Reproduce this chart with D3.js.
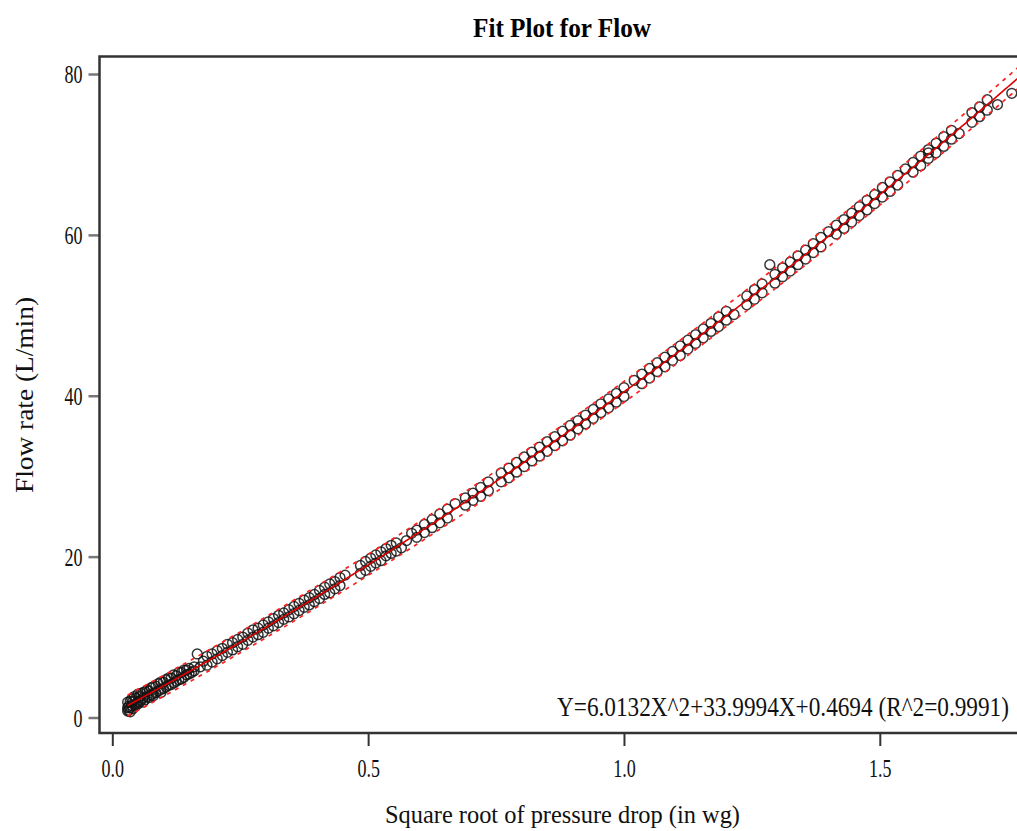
<!DOCTYPE html>
<html><head><meta charset="utf-8">
<script src="https://cdn.jsdelivr.net/npm/d3@7"></script>
<style>body{margin:0;background:#fff}svg{display:block}</style>
</head><body>
<svg id="chart" width="1017" height="831"></svg>
<script>
// ---- data ----
const pressureRoot = [
 0.030,0.030,0.030,0.032,0.032,0.035,0.035,0.035,0.038,0.038,0.040,0.040,0.043,0.043,0.046,0.046,0.050,0.050,0.050,0.053,0.053,0.056,0.056,0.060,0.060,0.060,0.064,0.064,0.068,0.068,0.072,0.072,0.076,0.076,0.080,0.080,0.080,0.085,0.085,0.090,0.090,0.095,0.095,0.095,0.100,0.100,0.105,0.105,0.110,0.110,0.115,0.115,0.120,0.120,0.125,0.125,0.130,0.130,0.135,0.135,0.140,0.140,0.145,0.145,0.150,0.150,0.155,0.160,0.160,
 0.166,0.172,0.178,0.185,0.185,0.195,0.195,0.205,0.205,0.215,0.215,0.225,0.225,0.235,0.235,0.245,0.245,0.255,0.255,0.265,0.265,0.275,0.275,0.285,0.285,0.295,0.295,0.305,0.305,0.315,0.315,0.325,0.325,0.335,0.335,0.345,0.345,
 0.355,0.355,0.365,0.365,0.375,0.375,0.385,0.385,0.395,0.395,0.405,0.405,0.415,0.415,0.425,0.425,0.435,0.435,0.445,0.445,0.455,0.485,0.485,0.495,0.495,0.505,0.505,0.515,0.515,0.525,0.525,0.535,0.535,0.545,0.545,0.555,0.555,0.565,0.575,0.585,
 0.595,0.595,0.610,0.610,0.625,0.625,0.640,0.640,0.655,0.655,0.670,0.690,0.690,0.705,0.705,0.720,0.720,0.735,0.735,0.760,0.760,0.775,0.775,0.790,0.790,0.805,0.805,0.820,0.820,0.835,0.835,0.850,0.850,0.865,0.865,0.880,0.880,0.895,0.895,
 0.910,0.910,0.925,0.925,0.940,0.940,0.955,0.955,0.970,0.970,0.985,0.985,1.000,1.000,1.020,1.035,1.035,1.050,1.050,1.065,1.065,1.080,1.080,1.095,1.095,1.110,1.110,1.125,1.125,1.140,1.140,1.155,1.155,
 1.170,1.170,1.185,1.185,1.200,1.200,1.215,1.240,1.240,1.255,1.255,1.270,1.270,1.285,1.295,1.295,1.310,1.310,1.325,1.325,1.340,1.340,1.355,1.355,1.370,1.370,1.385,1.385,1.400,1.415,1.415,1.430,1.430,1.445,1.445,
 1.460,1.460,1.475,1.475,1.490,1.490,1.505,1.505,1.520,1.520,1.535,1.535,1.550,1.565,1.565,1.580,1.580,1.595,1.595,1.595,1.610,1.610,1.625,1.625,1.640,1.640,1.655,1.680,1.680,1.695,1.695,1.710,1.710,1.730,1.758
];
const flowRate = [
 1.2,0.8,1.9,1.4,0.9,2.0,1.2,0.7,1.5,2.3,1.1,2.0,1.6,2.6,1.5,2.4,1.7,2.9,2.0,2.6,1.9,2.1,3.0,2.4,3.1,1.9,2.2,3.2,2.6,3.4,3.3,2.5,2.8,3.7,3.0,3.8,2.7,3.9,3.1,3.3,4.2,3.5,4.4,3.1,4.4,3.6,3.8,4.7,4.0,4.9,4.9,4.1,4.3,5.3,5.2,4.5,4.7,5.6,5.6,4.8,5.0,5.9,5.9,5.3,5.4,6.1,5.6,6.3,5.8,
 7.9,6.3,7.0,7.6,6.5,7.9,6.9,7.3,8.3,8.6,7.7,8.1,9.1,9.3,8.4,8.8,9.7,10.0,9.1,9.6,10.5,10.9,10.0,10.3,11.1,11.5,10.6,11.1,11.9,12.3,11.4,11.8,12.7,13.0,12.2,12.5,13.4,
 13.8,12.9,13.3,14.2,14.6,13.7,14.0,14.9,15.3,14.4,14.8,15.8,16.2,15.3,15.5,16.6,16.9,16.0,17.4,16.4,17.7,17.9,18.9,19.4,18.3,18.8,19.8,20.2,19.2,19.5,20.6,21.0,20.1,21.4,20.4,21.7,20.7,21.1,22.0,22.9,
 22.4,23.3,24.0,23.0,23.6,24.6,25.3,24.2,24.8,25.9,26.6,26.4,27.3,27.9,27.0,27.5,28.6,29.3,28.2,30.4,29.3,29.8,31.0,31.7,30.5,31.2,32.4,33.0,31.9,32.5,33.6,34.3,33.1,33.8,34.9,35.6,34.4,35.1,36.3,
 36.9,35.9,37.6,36.5,37.2,38.3,39.0,37.9,38.5,39.6,40.3,39.2,39.9,41.0,41.9,41.5,42.7,43.4,42.2,43.0,44.1,44.8,43.6,44.4,45.5,46.2,45.0,45.8,46.9,47.6,46.5,47.2,48.3,
 49.0,48.0,48.6,49.8,50.5,49.4,50.1,52.4,51.3,52.0,53.2,53.9,52.8,56.3,55.1,54.0,55.9,54.8,56.6,55.5,57.4,56.3,57.0,58.1,58.9,57.8,58.5,59.7,60.4,61.2,60.1,60.8,61.9,62.7,61.6,
 63.5,62.4,63.1,64.3,65.0,63.9,65.9,64.7,65.4,66.6,67.4,66.2,68.2,67.8,69.0,69.8,68.6,70.6,69.5,70.2,71.4,70.2,71.0,72.2,73.0,71.9,72.6,75.2,74.0,75.9,74.7,75.5,76.8,76.2,77.6
];
const xTickValues = [0, 0.5, 1.0, 1.5];
const xTickLabels = ["0.0", "0.5", "1.0", "1.5"];
const yTickValues = [0, 20, 40, 60, 80];
const yTickLabels = ["0", "20", "40", "60", "80"];
const fitCoefficients = [6.0132, 33.9994, 0.4694];   // X^2, X, intercept (from the chart's equation)
const predictionHalfWidth = 1.3;                     // dashed limits
const titleText = "Fit Plot for Flow";
const xLabelText = "Square root of pressure drop (in wg)";
const yLabelText = "Flow rate (L/min)";
const fitLabelText = "Y=6.0132X^2+33.9994X+0.4694 (R^2=0.9991)";

// ---- drawing ----
const svg = d3.select("#chart");
const serif = "'Liberation Serif','Times New Roman',serif";
const frame = {left: 99.5, top: 56.5, bottom: 733, right: 1017};

const x = d3.scaleLinear().domain([0, 1.5]).range([112.3, 879.8]);
const y = d3.scaleLinear().domain([0, 80]).range([717.5, 74]);

svg.append("defs").append("clipPath").attr("id", "plotClip")
  .append("rect").attr("x", frame.left + 1).attr("y", frame.top + 1)
  .attr("width", frame.right - frame.left).attr("height", frame.bottom - frame.top - 2);

// title
svg.append("text").attr("x", 473).attr("y", 37)
  .attr("font-family", serif).attr("font-weight", "bold").attr("font-size", 28)
  .attr("textLength", 178).attr("lengthAdjust", "spacingAndGlyphs")
  .attr("fill", "#000").text(titleText);

// axes
const xAxis = d3.axisBottom(x).tickValues(xTickValues)
  .tickFormat((d, i) => xTickLabels[i]).tickSize(13).tickSizeOuter(0);
const gx = svg.append("g").attr("transform", `translate(0,${frame.bottom})`).call(xAxis);
gx.select(".domain").remove();
gx.selectAll(".tick line").attr("stroke", "#333").attr("stroke-width", 2);
gx.selectAll(".tick text").attr("y", 0).attr("dy", 0)
  .attr("transform", "translate(0,44) scale(0.72,1)")
  .attr("font-family", serif).attr("font-size", 25).attr("fill", "#111");

const yAxis = d3.axisLeft(y).tickValues(yTickValues)
  .tickFormat((d, i) => yTickLabels[i]).tickSize(11).tickSizeOuter(0);
const gy = svg.append("g").attr("transform", `translate(${frame.left},0)`).call(yAxis);
gy.select(".domain").remove();
gy.selectAll(".tick line").attr("stroke", "#777").attr("stroke-width", 2.5);
gy.selectAll(".tick text").attr("x", 0).attr("dy", "0.34em")
  .attr("transform", "translate(-17,0) scale(0.72,1)")
  .attr("font-family", serif).attr("font-size", 25).attr("fill", "#111");

// frame (right side lies beyond the picture edge)
svg.append("rect").attr("x", frame.left).attr("y", frame.top)
  .attr("width", 1100).attr("height", frame.bottom - frame.top)
  .attr("fill", "none").attr("stroke", "#333").attr("stroke-width", 2.5);

// axis labels
svg.append("text").attr("x", 385).attr("y", 823)
  .attr("font-family", serif).attr("font-size", 26)
  .attr("textLength", 355).attr("lengthAdjust", "spacingAndGlyphs")
  .attr("fill", "#111").text(xLabelText);

svg.append("text").attr("transform", "translate(33,493) rotate(-90)")
  .attr("font-family", serif).attr("font-size", 26)
  .attr("textLength", 196).attr("lengthAdjust", "spacingAndGlyphs")
  .attr("fill", "#111").text(yLabelText);

// plot content
const plot = svg.append("g").attr("clip-path", "url(#plotClip)");
const fit = v => fitCoefficients[0] * v * v + fitCoefficients[1] * v + fitCoefficients[2];
const xs = d3.range(d3.min(pressureRoot), 1.8, 0.005);

plot.append("g").selectAll("circle")
  .data(d3.zip(pressureRoot, flowRate))
  .join("circle")
  .attr("cx", d => x(d[0])).attr("cy", d => y(d[1])).attr("r", 4.9)
  .attr("fill", "none").attr("stroke", "#141414").attr("stroke-width", 1.5)
  .attr("stroke-opacity", 0.85);

const line = d3.line().x(d => x(d[0])).y(d => y(d[1]));
[-predictionHalfWidth, predictionHalfWidth].forEach(off => {
  plot.append("path").datum(xs.map(v => [v, fit(v) + off]))
    .attr("d", line).attr("fill", "none").attr("stroke", "#ff2020")
    .attr("stroke-width", 1.7).attr("stroke-dasharray", "4,5");
});
plot.append("path").datum(xs.map(v => [v, fit(v)]))
  .attr("d", line).attr("fill", "none").attr("stroke", "#e00000").attr("stroke-width", 1.6);

// fit equation (condensed with a transform so its box stays inside the picture)
const eq = svg.append("text").attr("transform", "translate(557,716) scale(0.86,1)")
  .attr("font-family", serif).attr("font-size", 27)
  .attr("fill", "#111").text(fitLabelText);
const eqW = eq.node().getComputedTextLength();
eq.attr("transform", `translate(557,716) scale(${452 / eqW},1)`);
</script>
</body></html>
